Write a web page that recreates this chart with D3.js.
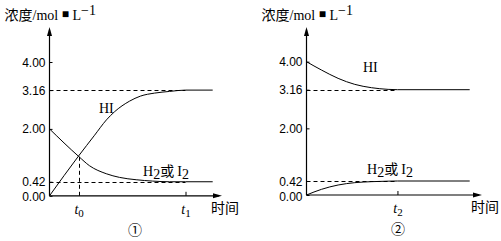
<!DOCTYPE html>
<head>
<meta charset="utf-8">
</head>
<style type="text/css">
  body { margin: 0; background: #fff; }
  svg { display: block; }
  .curve { fill: none; stroke: #000; stroke-width: 1; }
  .guide { stroke: #000; stroke-width: 1; stroke-dasharray: 4 3; fill: none; }
  .axis-line { stroke: #000; stroke-width: 1.2; }
  .num { font-family: "Liberation Sans", Arial, sans-serif; font-size: 12px; }
  .cjk { font-family: "Noto Sans CJK SC", sans-serif; font-size: 14px; }
  .serif { font-family: "Liberation Serif", "Times New Roman", serif; font-size: 14px; }
</style>
<body>
<div id="chart"></div>
<script src="https://cdn.jsdelivr.net/npm/d3@7"></script>
<script>

// tick values / labels on the concentration axis
var yTicks = [0, 0.42, 2.00, 3.16, 4.00];
var yTickLabels = ["0.00", "0.42", "2.00", "3.16", "4.00"];

// panel 1 : start from H2 + I2
var time1 = [0, 1.71, 2.65, 3.35, 3.82, 4.71, 5.35, 6.18, 7.06, 8.0, 9.6];
var hi1   = [0, 1.19, 1.81, 2.27, 2.51, 2.83, 2.98, 3.07, 3.12, 3.16, 3.16];
var h2time1 = [0, 1.71, 2.35, 3.34, 4.12, 5.1, 6.06, 7.06, 8.0, 9.6];
var h2val1  = [2.00, 1.18, 0.90, 0.66, 0.55, 0.48, 0.44, 0.42, 0.42, 0.42];
var t0 = 1.71, t1 = 8.0;

// panel 2 : start from HI
var time2 = [0, 0.88, 1.86, 2.84, 3.82, 4.8, 5.35, 9.6];
var hi2   = [4.00, 3.75, 3.50, 3.32, 3.22, 3.17, 3.16, 3.16];
var h2val2 = [0, 0.17, 0.30, 0.37, 0.40, 0.415, 0.42, 0.42];
var t2 = 5.35;

var svg = d3.select("#chart").append("svg")
    .attr("width", 501)
    .attr("height", 241);

function zip(ts, vs) {
    return ts.map(function(t, i) { return {t: t, v: vs[i]}; });
}

function drawPanel(opt) {
    var g = svg.append("g");

    var x = d3.scaleLinear().domain([0, 10]).range([opt.left, opt.left + 170]);
    var y = d3.scaleLinear().domain([0, 4]).range([opt.bottom, opt.top4]);

    var line = d3.line()
        .curve(d3.curveMonotoneX)
        .x(function(d) { return x(d.t); })
        .y(function(d) { return y(d.v); });

    // dashed guides
    opt.guides.forEach(function(gd) {
        g.append("line").attr("class", "guide")
            .attr("x1", x(0)).attr("x2", x(gd.to))
            .attr("y1", Math.round(y(gd.v)) + 0.5).attr("y2", Math.round(y(gd.v)) + 0.5);
    });
    if (opt.vguide) {
        g.append("line").attr("class", "guide")
            .attr("x1", Math.round(x(opt.vguide.t)) + 0.5).attr("x2", Math.round(x(opt.vguide.t)) + 0.5)
            .attr("y1", y(0)).attr("y2", y(opt.vguide.v));
    }

    // curves
    opt.series.forEach(function(s) {
        g.append("path").attr("class", "curve").attr("d", line(s));
    });

    // y axis
    var yAxis = d3.axisLeft(y)
        .tickValues(yTicks)
        .tickSizeInner(-3)
        .tickSizeOuter(0)
        .tickPadding(4)
        .tickFormat(function(d, i) { return yTickLabels[i]; });

    var ya = g.append("g")
        .attr("transform", "translate(" + opt.left + ",0)")
        .call(yAxis);
    ya.select(".domain").remove();
    ya.selectAll("text").attr("class", "num").attr("font-family", null).attr("font-size", null)
        .attr("dy", function(d) { return d === 0 ? "0.42em" : "0.34em"; });

    // x axis
    var xAxis = d3.axisBottom(x)
        .tickValues(opt.xTicks.map(function(d) { return d.t; }))
        .tickSizeInner(-4)
        .tickSizeOuter(0)
        .tickFormat("");
    var xa = g.append("g")
        .attr("transform", "translate(0," + y(0) + ")")
        .call(xAxis);
    xa.select(".domain").remove();
    xa.selectAll(".tick").each(function(d, i) {
        var tk = opt.xTicks[i];
        if (tk.noLine) d3.select(this).select("line").remove();
        var txt = d3.select(this).append("text")
            .attr("class", "serif")
            .attr("fill", "#000")
            .attr("text-anchor", "middle")
            .attr("y", 18)
            .attr("x", 0);
        txt.append("tspan").attr("font-style", "italic").text("t");
        txt.append("tspan").attr("font-size", "11px").attr("dy", 3).text(tk.sub);
    });

    // axis lines with arrows
    var ax = opt.left, ay = y(0);
    g.append("line").attr("class", "axis-line")
        .attr("x1", ax).attr("x2", ax).attr("y1", ay).attr("y2", 30);
    g.append("path").attr("d", "M" + ax + ",27 L" + (ax - 2.5) + ",36 L" + (ax + 2.5) + ",36 Z");
    var xe = opt.arrowX;
    g.append("line").attr("class", "axis-line")
        .attr("x1", ax).attr("x2", xe - 3).attr("y1", ay).attr("y2", ay);
    g.append("path").attr("d", "M" + xe + "," + ay + " L" + (xe - 9) + "," + (ay - 2.5) + " L" + (xe - 9) + "," + (ay + 2.5) + " Z");

    // axis titles
    var title = g.append("text").attr("x", opt.left - 45).attr("y", 20);
    title.append("tspan").attr("class", "cjk").attr("font-size", "13px").text("浓度");
    title.append("tspan").attr("class", "serif").attr("font-size", "13px").text("/mol ");
    title.append("tspan").attr("class", "num").attr("font-size", "6px").attr("dy", -2).text("■");
    title.append("tspan").attr("class", "serif").attr("font-size", "13px").attr("dy", 2).text(" L");
    title.append("tspan").attr("class", "serif").attr("font-size", "10px").attr("dy", -5).text("−1");

    g.append("text").attr("class", "cjk")
        .attr("x", opt.arrowX - 11).attr("y", y(0) + 17).text("时间");

    // species labels
    g.append("text").attr("class", "serif")
        .attr("x", opt.hiLabel[0]).attr("y", opt.hiLabel[1]).text("HI");

    var h2 = g.append("text").attr("x", opt.h2Label[0]).attr("y", opt.h2Label[1]);
    h2.append("tspan").attr("class", "serif").text("H");
    h2.append("tspan").attr("class", "serif").attr("font-size", "9px").attr("dy", 3).text("2");
    h2.append("tspan").attr("class", "cjk").attr("dy", -3).text("或 ");
    h2.append("tspan").attr("class", "serif").text("I");
    h2.append("tspan").attr("class", "serif").attr("font-size", "9px").attr("dy", 3).text("2");

    g.append("text").attr("class", "cjk").attr("font-size", "16px")
        .attr("x", opt.circle[0]).attr("y", opt.circle[1])
        .attr("text-anchor", "middle").text(opt.circleText);
}

drawPanel({
    left: 49.5, bottom: 195.8, top4: 62, arrowX: 222,
    series: [zip(time1, hi1), zip(h2time1, h2val1)],
    guides: [{v: 3.16, to: t1}, {v: 0.42, to: t1}],
    vguide: {t: t0, v: 1.18},
    xTicks: [{t: t0, sub: "0", noLine: true}, {t: t1, sub: "1"}],
    hiLabel: [99, 113], h2Label: [143, 176],
    circle: [135, 235], circleText: "①"
});

drawPanel({
    left: 306.5, bottom: 195, top4: 61.7, arrowX: 482,
    series: [zip(time2, hi2), zip(time2, h2val2)],
    guides: [{v: 3.16, to: t2}, {v: 0.42, to: t2}],
    vguide: null,
    xTicks: [{t: t2, sub: "2"}],
    hiLabel: [363, 72], h2Label: [367, 174],
    circle: [398, 234], circleText: "②"
});

</script>
</body>
